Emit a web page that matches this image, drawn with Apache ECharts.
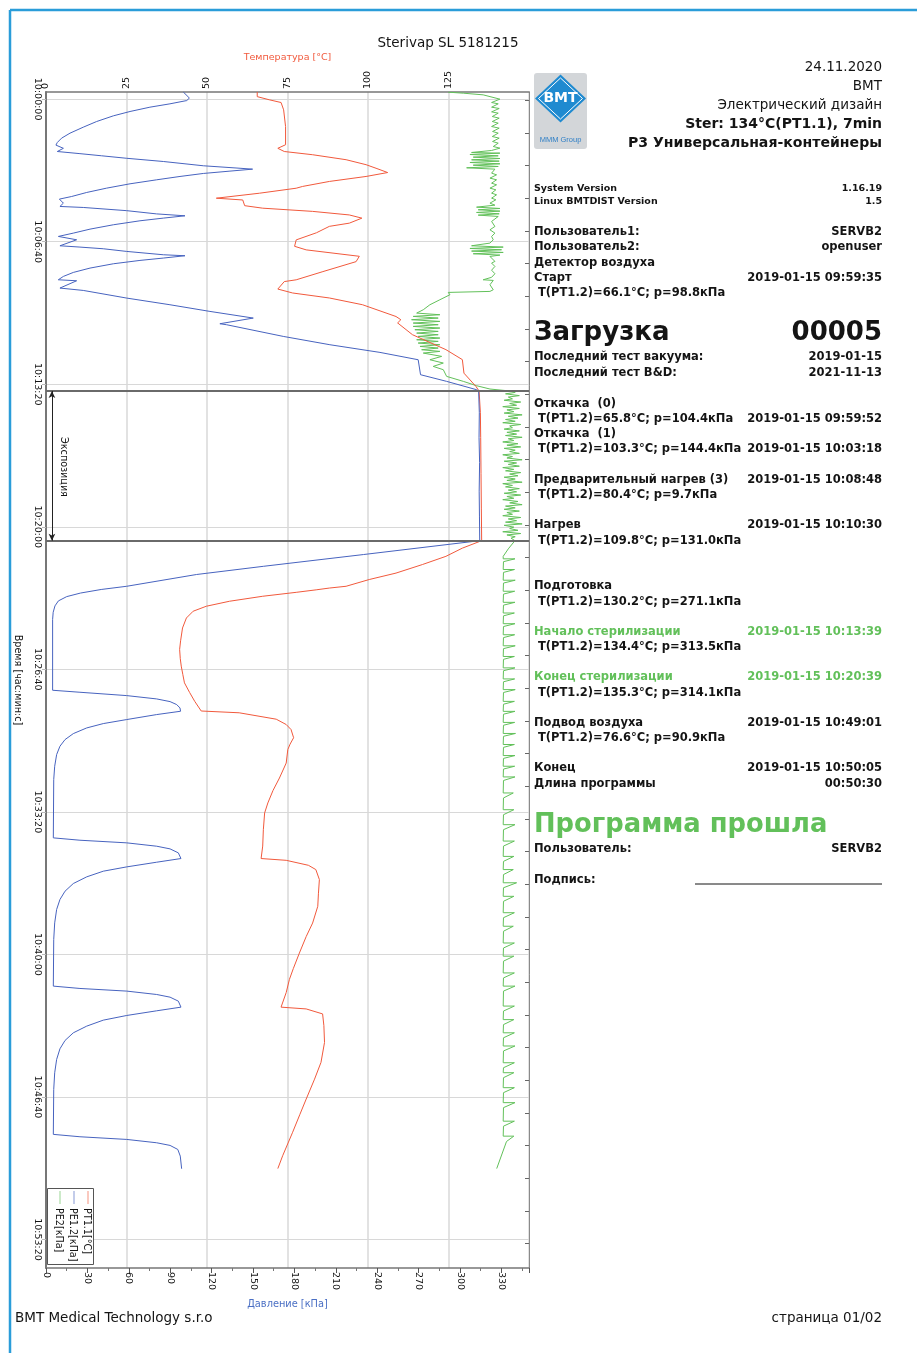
<!DOCTYPE html>
<html><head><meta charset="utf-8">
<script src="https://cdn.jsdelivr.net/npm/echarts@6/dist/echarts.min.js"></script>
<style>html,body{margin:0;padding:0;background:#fff}#c{width:917px;height:1353px}</style>
</head><body><div id="c"></div>
<script>
// ---------------- DATA (time in seconds relative to 10:00:00) ----------------
const timeTickValues = [0, 400, 800, 1200, 1600, 2000, 2400, 2800, 3200];
const timeTickLabels = ['10:00:00','10:06:40','10:13:20','10:20:00','10:26:40','10:33:20','10:40:00','10:46:40','10:53:20'];
const rightTickValues = [3,95,186,278,370,461,553,645,736,828,920,1011,1103,1195,1286,1378,1470,1561,1653,1745,1836,1928,2020,2111,2203,2295,2386,2478,2570,2661,2753,2845,2936,3028,3120,3211];
const tempTicks = [0, 25, 50, 75, 100, 125, 150];
const pressureTicks = [0, 30, 60, 90, 120, 150, 180, 210, 240, 270, 300, 330];
const sterStart = 819;   // 10:13:39
const sterEnd = 1239;    // 10:20:39

// PT1.1 temperature [°C]: [time s, value]
const pt11Points = [
 [-20,65.6],[-7,65.6],[2,69.4],[9.5,73],[30,73.8],[77,74.4],[128,74.4],[138,72],[147,74],
 [156,82.8],[170,93.2],[184,99.4],[194,102.5],[206,106.1],[217,99.4],[231,88],[245,79.7],[250,77.7],
 [264,66.3],[278,52.9],[283,61.1],[299,61.7],[306,67.3],[315,82.8],[325,94.2],[334,98.1],[348,94.2],
 [357,88],[375,84],[395,77.7],[413,77.2],[423,80.8],[441,97.3],[456,96.3],[484,86],[507,77.7],
 [512,74],[533,72],[544,76.6],[558,88],[577,98.3],[610,108.7],[619,110.2],[628,109.2],[661,113.8],
 [703,124.2],[731,129.3],[769,129.8],[806,133.5],[819,134.5],
 [880,134.9],[950,135],[1050,135.1],[1150,135.2],[1239,135.3],
 [1260,129.3],[1283,124.2],[1306,116.9],[1330,108.7],[1348,100.4],[1367,93.2],[1372,88],[1377,83.9],
 [1384,77.7],[1395,67.3],[1409,57],[1423,49.8],[1437,45.7],[1456,43.6],[1484,42.4],
 [1520,41.8],[1544,41.5],[1570,41.7],[1591,42],[1615,42.5],[1638,43],[1665,44.6],[1690,46.2],[1717,48.2],
 [1722,60],[1740,71.5],[1755,74.6],[1769,76.1],[1792,76.9],[1810,75.8],[1825,75.1],[1863,74.6],
 [1905,72.5],[1940,70.5],[1975,68.9],[2003,67.9],[2050,67.5],[2096,67.3],[2131,66.8],
 [2136,74.6],[2150,81.5],[2162,83.8],[2190,84.9],[2230,84.6],[2265,84.4],[2312,82.8],[2350,80.8],
 [2396,78.7],[2440,76.8],[2470,75.6],[2507,74.6],[2548,73],[2553,80.8],[2567,85.9],[2600,86.3],
 [2647,86.5],[2703,85.4],[2750,83.4],[2806,80.8],[2850,78.8],[2899,76.6],[2965,73.5],[3001,72]
];

// PE1.2 pressure [kPa]: [time s, value]
const pe12Points = [
 [-20,99.5],[-3,103.9],[4,102],[13.2,89.8],[22.6,75.3],[34.7,60.9],[46.9,48.8],[62.8,36.7],[78.7,27],
 [95.5,17.4],[109.5,11.3],[121.7,8.2],[129,7.2],[138,12.6],[147,8.2],
 [153,24.6],[159,40.3],[166,58.5],[175,85],[187,114],[194,140.6],[196.5,149.7],
 [202,133.3],[208.6,114],[217,97.1],[226.4,80.2],[237.6,60.9],[249.8,43.9],[261.9,29.5],[273.2,18.6],
 [280.6,9.7],[291.9,12.6],[301.2,10.1],
 [304,27],[313,58.5],[322,80],[327.4,100.7],
 [333.9,85],[341.4,68.1],[352.6,48.8],[364.8,31.9],[376,19.8],[385.3,9],[394.7,22.2],[411.5,10.1],
 [415.2,24.6],[419.9,41.5],[427.4,58.5],[436.7,85],[439.5,100.7],
 [446,85],[452.6,68.1],[462,48.8],[474.1,31.9],[486.3,19.8],[497.5,12.6],[506.9,8.9],[509.7,22.2],[530.2,10.1],
 [536.8,27],[558.3,58.5],[577,89.8],[595.7,118.8],[614.4,150.2],[630.3,126],[633.1,130.9],
 [665.8,171.9],[689.2,205.7],[710.7,242],[731.3,269.7],[773.3,271.4],[792,290.3],[815.4,312],[819,313.5],
 [880,314],[950,313.8],[1020,314.2],[1100,313.9],[1170,314.1],[1239,314.3],
 [1278,230],[1311,157.5],[1334,109],[1367,58.5],[1376,40],[1386,25],[1396,15],[1408,9],[1422,6.5],
 [1440,5.2],[1460,4.8],
 [1658.8,4.8],[1664.4,24.6],[1673.8,58.5],[1683.1,80.2],[1690.6,89.9],[1699,94.7],[1708.4,97.1],[1717.7,97.5],
 [1727,80.2],[1741,58.5],[1752.3,41.5],[1764.5,29.5],[1780.4,19.8],[1797.2,13.8],[1815.9,10.1],
 [1839.3,7.7],[1872,6.3],[1909.4,5.6],
 [2073,5.3],[2079.6,24.6],[2087,58.5],[2096.4,80.2],[2103.9,89.9],[2115.1,95.9],[2131,97.8],
 [2141.3,80.2],[2154.4,58.5],[2166.5,41.5],[2182.4,29.5],[2201.1,19.8],[2222.6,13.8],[2246,10.1],
 [2274,7.7],[2311.5,6.3],[2358.2,5.6],[2489,5.3],
 [2495.6,24.6],[2503,58.5],[2512.5,80.2],[2520,89.9],[2531.2,95.9],[2548,97.8],
 [2558.3,80.2],[2571.4,58.5],[2584.5,41.5],[2601.3,29.5],[2620,19.8],[2641.5,13.8],[2664.9,10.1],
 [2694.8,7.7],[2732.2,6.3],[2779,5.6],[2905,5.3],
 [2911.7,24.6],[2919.2,58.5],[2928.6,80.2],[2936,89.9],[2947.3,95.5],[2966,97.3],[3001.5,98.3]
];

// PE2 pressure [kPa]: [time s, value]
const pe2Points = [
 [-19.5,291.5],[-16.7,302.4],[-12,316.8],[0.1,328.9],
 [9.5,322.9],[13.2,327.7],[22.6,322.9],[26.3,328.4],[35.7,322.9],[39.4,327.7],[48.8,323.4],[53.4,328.4],
 [62.8,323.4],[67.5,327.7],[76.8,322.9],[81.5,328.4],[90.8,323.6],[95.5,327.7],[104.9,323.4],[109.5,328.4],
 [118.9,323.6],[123.6,327.7],[132.9,324.1],[137.6,328.9],[144.1,322.9],
 [149.7,308.4],[151.6,328.9],[155.3,307.2],[159.1,327.7],[162.8,309.6],[166.6,328.9],[170.3,308.4],
 [174,328.4],[177.8,307.2],[181.5,328.9],[185.3,309.6],[189,327.7],[192.7,304.8],[196.5,325.3],
 [207.7,322.9],[212.4,326.5],[221.7,321.7],[226.4,326.5],[235.8,322.9],[240.4,326.5],[249.8,321.7],
 [254.5,326],[263.8,322.9],[268.5,326.5],[277.8,322.9],[282.5,326],[291.9,321.7],[297.5,325.3],
 [303.1,312],[306.8,328.9],[310.5,313.2],[314.3,328.9],[318,312],[321.8,328.4],[325.5,313.2],[329.2,327.7],
 [343.3,322.9],[357.3,325.3],[366.7,321.7],[376,325.3],[385.4,322.9],[394.7,324.1],
 [404,321.7],[411.5,308.4],[415.2,331.3],[419,307.2],[422.7,330.1],[426.4,308.4],[430.2,331.3],
 [433.9,309.6],[437.7,328.9],[441.4,321.7],[455.4,325.3],[460.1,322.9],[469.5,325.3],[480,322.9],
 [490,325.3],[500,322.9],[506.9,316.8],[508.7,324.1],[520.9,321.7],[534.9,324.1],[539.6,321.7],
 [542.4,291.5],[548.9,292.7],[563,285.4],[577,278.2],[591,273.4],[600.4,268.6],
 [605,285.4],[609.7,266.1],[614.4,284.2],[619,264.9],[623.7,285.4],[628.4,266.1],[633,284.2],
 [637.8,266.1],[642.4,285.4],[647.1,267.3],[651.8,284.2],[656.5,268.6],[661.1,284.2],[665.8,269.7],
 [670.5,285.4],[675.2,268.6],[679.8,284.2],[684.5,269.7],[689.2,285.4],[693.9,271],[698.5,284.2],
 [703.2,272.2],[707.9,285.4],[712.6,273.4],[721.9,286.7],[731.3,278.2],[740.6,287.9],[750,280.6],
 [759.3,287.9],[778,290.3],[792,302.4],[804.2,312],[813.5,321.7],[819,336.2],
 [823,340],[827,333],[832,343],[836,335],[841,338],[845,332],[850,344],[854,336],[859,341],[863,331],
 [868,343],[872,334],[877,339],[881,332],[886,345],[890,335],[895,342],[899,333],[904,340],[908,331],
 [913,344],[917,336],[922,338],[926,332],[931,343],[935,334],[940,341],[944,333],[949,345],[953,335],
 [958,339],[962,331],[967,342],[971,334],[976,344],[980,332],[985,340],[989,336],[994,343],[998,331],
 [1003,338],[1007,334],[1012,345],[1016,332],[1021,341],[1025,335],[1030,343],[1034,331],[1039,339],[1043,333],
 [1048,344],[1052,336],[1057,342],[1061,332],[1066,340],[1070,334],[1075,345],[1079,331],[1084,338],[1088,333],
 [1093,343],[1097,335],[1102,341],[1106,332],[1111,344],[1115,334],[1120,339],[1124,331],[1129,342],[1133,336],
 [1138,345],[1142,333],[1147,340],[1151,332],[1156,343],[1160,334],[1165,338],[1169,331],[1174,344],[1178,335],
 [1183,341],[1187,333],[1192,345],[1196,332],[1201,339],[1205,336],[1210,342],[1214,331],[1219,344],[1223,334],
 [1228,340],[1232,337],
 [1239,339.8],[1262,335],[1283,331.3],
 [1290,331.3],[1290,339.8],[1298,331.5],[1320,331.3],[1320,339.5],[1328,331.5],
 [1350,331.3],[1350,340],[1358,331.5],[1381,331.3],[1381,339.6],[1389,331.5],
 [1412,331.3],[1412,339.8],[1420,331.5],[1442,331.3],[1442,339.4],[1450,331.5],
 [1472,331.3],[1472,339.8],[1480,331.5],[1503,331.3],[1503,339.6],[1511,331.5],
 [1534,331.3],[1534,340],[1542,331.5],[1564,331.3],[1564,339.4],[1572,331.5],
 [1596,331.3],[1596,339.8],[1604,331.5],[1627,331.3],[1627,339.6],[1635,331.5],
 [1657,331.3],[1657,340],[1665,331.5],[1690,331.3],[1690,339.4],[1698,331.5],
 [1718,331.3],[1718,339.8],[1726,331.5],[1749,331.3],[1749,339.6],[1757,331.5],
 [1780,331.3],[1780,340.2],[1788,331.5],[1811,331.3],[1811,339.4],[1819,331.5],
 [1842,331.3],[1842,339.8],[1850,331.5],[1872,331.3],[1872,339.6],[1880,331.5],
 [1902,331.3],[1902,339.8],[1912,331.5],
 [1947,331.3],[1947,338.6],[1961,331.5],[1994,331.3],[1994,339],[2008,331.5],
 [2036,331.3],[2036,339.8],[2050,331.5],[2082,331.3],[2082,339.4],[2096,331.5],
 [2125,331.3],[2125,339],[2139,331.5],[2162,331.3],[2162,338.6],[2176,331.5],
 [2199,331.3],[2199,341],[2213,331.5],[2237,331.3],[2237,339],[2251,331.5],
 [2283,331.3],[2283,339.4],[2297,331.5],[2321,331.3],[2321,338.6],[2335,331.5],
 [2368,331.3],[2368,339.4],[2382,331.5],[2405,331.3],[2405,339],[2419,331.5],
 [2452,331.3],[2452,339.4],[2466,331.5],[2489,331.3],[2489,339.8],[2503,331.5],
 [2545,331.3],[2545,339.4],[2559,331.5],[2583,331.3],[2583,339],[2597,331.5],
 [2620,331.3],[2620,339.4],[2634,331.5],[2657,331.3],[2657,339.8],[2671,331.5],
 [2704,331.3],[2704,339.4],[2718,331.5],[2732,331.3],[2732,339],[2746,331.5],
 [2774,331.3],[2774,339.4],[2788,331.5],[2816,331.3],[2816,339.8],[2830,331.5],
 [2868,331.3],[2868,339.4],[2882,331.5],[2910,331.3],[2910,339],[2925,333.7],
 [3001,326.6]
];

// ---------------- STYLE ----------------
const F = '"DejaVu Sans", Verdana, sans-serif';
const RED = '#f1593c', BLUE = '#4763bf', GREEN = '#62c05a', TXT = '#141414';
const AXC = '#777777', GRIDC = '#d8d8d8';
const AX_FS = 9.5;

const chart = echarts.init(document.getElementById('c'), null, {renderer: 'canvas'});

// right information panel
const infoRows = [
 [189, 'System Version', '1.16.19', 's'],
 [202, 'Linux BMTDIST Version', '1.5', 's'],
 [232, 'Пользователь1:', 'SERVB2', 'b'],
 [247, 'Пользователь2:', 'openuser', 'b'],
 [263, 'Детектор воздуха', '', 'b'],
 [278, 'Старт', '2019-01-15 09:59:35', 'b'],
 [293, 'T(PT1.2)=66.1°C; p=98.8кПа', '', 'i'],
 [357, 'Последний тест вакуума:', '2019-01-15', 'b'],
 [373, 'Последний тест B&D:', '2021-11-13', 'b'],
 [404, 'Откачка  (0)', '', 'b'],
 [419, 'T(PT1.2)=65.8°C; p=104.4кПа', '2019-01-15 09:59:52', 'i'],
 [434, 'Откачка  (1)', '', 'b'],
 [449, 'T(PT1.2)=103.3°C; p=144.4кПа', '2019-01-15 10:03:18', 'i'],
 [480, 'Предварительный нагрев (3)', '2019-01-15 10:08:48', 'b'],
 [495, 'T(PT1.2)=80.4°C; p=9.7кПа', '', 'i'],
 [525, 'Нагрев', '2019-01-15 10:10:30', 'b'],
 [541, 'T(PT1.2)=109.8°C; p=131.0кПа', '', 'i'],
 [586, 'Подготовка', '', 'b'],
 [602, 'T(PT1.2)=130.2°C; p=271.1кПа', '', 'i'],
 [632, 'Начало стерилизации', '2019-01-15 10:13:39', 'g'],
 [647, 'T(PT1.2)=134.4°C; p=313.5кПа', '', 'i'],
 [677, 'Конец стерилизации', '2019-01-15 10:20:39', 'g'],
 [693, 'T(PT1.2)=135.3°C; p=314.1кПа', '', 'i'],
 [723, 'Подвод воздуха', '2019-01-15 10:49:01', 'b'],
 [738, 'T(PT1.2)=76.6°C; p=90.9кПа', '', 'i'],
 [768, 'Конец', '2019-01-15 10:50:05', 'b'],
 [784, 'Длина программы', '00:50:30', 'b'],
 [849, 'Пользователь:', 'SERVB2', 'b'],
 [880, 'Подпись:', '', 'b']
];
const PL = 534, PR = 882;
const graphics = [];
function T(x, y, text, font, fill, align, extra) {
  graphics.push(Object.assign({type: 'text', x: x, y: y, silent: true,
    style: {text: text, font: font, fill: fill || TXT, align: align || 'left', verticalAlign: 'middle'}}, extra || {}));
}
infoRows.forEach(r => {
  const y = r[0], kind = r[3];
  const font = kind === 's' ? 'bold 9.5px ' + F : 'bold 11.5px ' + F;
  const col = kind === 'g' ? GREEN : TXT;
  T(kind === 'i' ? PL + 4 : PL, y, r[1], font, col, 'left');
  if (r[2]) T(PR, y, r[2], font, col, 'right');
});
// big lines
T(PL, 333, 'Загрузка', 'bold 26px ' + F, TXT, 'left');
T(PR, 333, '00005', 'bold 26px ' + F, TXT, 'right');
T(PL, 825, 'Программа прошла', 'bold 25.8px ' + F, GREEN, 'left');
graphics.push({type: 'line', silent: true, shape: {x1: 695, y1: 884, x2: 882, y2: 884}, style: {stroke: TXT, lineWidth: 1}});
// header on right
T(PR, 67, '24.11.2020', '13.5px ' + F, TXT, 'right');
T(PR, 86, 'BMT', '13.5px ' + F, TXT, 'right');
T(PR, 105, 'Электрический дизайн', '13.5px ' + F, TXT, 'right');
T(PR, 124, 'Ster: 134°C(PT1.1), 7min', 'bold 14px ' + F, TXT, 'right');
T(PR, 143, 'P3 Универсальная-контейнеры', 'bold 14.1px ' + F, TXT, 'right');
// title and footer
T(448, 43, 'Sterivap SL 5181215', '13.5px ' + F, TXT, 'center');
T(15, 1318, 'BMT Medical Technology s.r.o', '13.5px ' + F, TXT, 'left');
T(PR, 1318, 'страница 01/02', '13.5px ' + F, TXT, 'right');
// logo
graphics.push({type: 'rect', silent: true, shape: {x: 534, y: 73, width: 53, height: 76, r: 3}, style: {fill: '#d3d6d9'}});
graphics.push({type: 'polygon', silent: true, shape: {points: [[560.5,74.5],[586,98.5],[560.5,122.5],[535,98.5]]}, style: {fill: '#1f8ad0'}});
graphics.push({type: 'polygon', silent: true, shape: {points: [[560.5,78],[582.5,98.5],[560.5,119],[538.5,98.5]]}, style: {fill: 'none', stroke: '#ffffff', lineWidth: 1}});
T(560.5, 98.5, 'BMT', 'bold 14px ' + F, '#ffffff', 'center');
T(560.5, 140, 'MMM Group', '7.5px "Liberation Sans", sans-serif', '#2f7fc6', 'center');
// page frame
graphics.push({type: 'line', silent: true, shape: {x1: 10, y1: 10, x2: 917, y2: 10}, style: {stroke: '#2a9dd9', lineWidth: 2.5}});
graphics.push({type: 'line', silent: true, shape: {x1: 10, y1: 10, x2: 10, y2: 1353}, style: {stroke: '#2a9dd9', lineWidth: 2.5}});
// exposure label
T(63, 467, 'Экспозиция', '9.6px ' + F, TXT, 'center', {rotation: -Math.PI / 2});
// legend box (rotated)
graphics.push({type: 'rect', silent: true, shape: {x: 47.5, y: 1188.5, width: 46, height: 76}, style: {fill: '#fff', stroke: '#555', lineWidth: 1}, z: 50});
[[RED, 88, 86, 'PT1.1[°C]'], [BLUE, 74, 72, 'PE1.2[кПа]'], [GREEN, 60, 58, 'PE2[кПа]']].forEach(l => {
  graphics.push({type: 'line', silent: true, z: 51, shape: {x1: l[1], y1: 1191, x2: l[1], y2: 1204}, style: {stroke: l[0], lineWidth: 1, opacity: 0.65}});
  T(l[2], 1208, l[3], '9.6px ' + F, TXT, 'left', {rotation: -Math.PI / 2, z: 51});
});

const option = {
  animation: false,
  backgroundColor: '#ffffff',
  textStyle: {fontFamily: F},
  grid: {left: 46, top: 92, width: 483, height: 1176, show: false, outerBoundsMode: 'none', containLabel: false},
  xAxis: [
    {type: 'value', position: 'bottom', min: 0, max: 350, interval: 30,
     axisLine: {show: true, onZero: false, lineStyle: {color: AXC, width: 1.5}},
     axisTick: {show: true, length: 5, lineStyle: {color: '#555'}},
     minorTick: {show: true, splitNumber: 2, length: 3, lineStyle: {color: '#777'}},
     axisLabel: {rotate: -90, showMaxLabel: false, fontSize: AX_FS, color: TXT, margin: 4, fontFamily: F},
     splitLine: {show: false},
     name: 'Давление [кПа]', nameLocation: 'middle', nameGap: 31,
     nameTextStyle: {color: '#4a6fc4', fontSize: 9.8, fontFamily: F}},
    {type: 'value', position: 'top', min: 0, max: 150, interval: 25,
     axisLine: {show: true, onZero: false, lineStyle: {color: AXC, width: 1.5}},
     axisTick: {show: false},
     axisLabel: {rotate: -90, showMaxLabel: false, fontSize: AX_FS, color: TXT, margin: 3, fontFamily: F},
     splitLine: {show: true, lineStyle: {color: GRIDC, width: 1.5}},
     name: 'Температура [°C]', nameLocation: 'middle', nameGap: 29,
     nameTextStyle: {color: RED, fontSize: 9.5, fontFamily: F}}
  ],
  yAxis: [
    {type: 'value', position: 'left', inverse: true, min: -20, max: 3280,
     axisLine: {show: true, onZero: false, lineStyle: {color: AXC, width: 2}},
     axisTick: {show: true, length: 4, customValues: timeTickValues, lineStyle: {color: '#bbb'}},
     axisLabel: {customValues: timeTickValues, rotate: -90, fontSize: AX_FS, color: TXT, margin: 4, fontFamily: F,
       formatter: v => timeTickLabels[timeTickValues.indexOf(v)] || ''},
     splitLine: {show: true, lineStyle: {color: GRIDC, width: 1.2}},
     name: 'Время [час:мин:с]', nameLocation: 'middle', nameRotate: -90, nameGap: 24,
     nameTextStyle: {color: TXT, fontSize: 9.6, fontFamily: F}},
    {type: 'value', position: 'right', inverse: true, min: -20, max: 3280,
     axisLine: {show: true, onZero: false, lineStyle: {color: '#8a8a8a', width: 1}},
     axisTick: {show: true, inside: true, length: 4, customValues: rightTickValues, lineStyle: {color: '#666'}},
     axisLabel: {show: false}, splitLine: {show: false}}
  ],
  series: [
    {name: 'PE2[кПа]', type: 'line', xAxisIndex: 0, yAxisIndex: 0, symbol: 'none', showSymbol: false, z: 2,
     lineStyle: {color: GREEN, width: 1}, data: pe2Points.map(d => [d[1], d[0]])},
    {name: 'PT1.1[°C]', type: 'line', xAxisIndex: 1, yAxisIndex: 0, symbol: 'none', showSymbol: false, z: 3,
     lineStyle: {color: RED, width: 1}, data: pt11Points.map(d => [d[1], d[0]])},
    {name: 'PE1.2[кПа]', type: 'line', xAxisIndex: 0, yAxisIndex: 0, symbol: 'none', showSymbol: false, z: 4,
     lineStyle: {color: BLUE, width: 1}, data: pe12Points.map(d => [d[1], d[0]]),
     markLine: {silent: true, animation: false, symbol: 'none', label: {show: false},
       lineStyle: {color: '#6a6a6a', width: 2, type: 'solid'},
       data: [
         {yAxis: sterStart}, {yAxis: sterEnd},
         [{coord: [4.3, sterStart], symbol: 'arrow', symbolSize: [5, 7], lineStyle: {color: '#222', width: 1, type: 'solid'}},
          {coord: [4.3, sterEnd], symbol: 'arrow', symbolSize: [5, 7]}]
       ]}}
  ],
  graphic: {elements: graphics}
};
chart.setOption(option);
</script></body></html>
